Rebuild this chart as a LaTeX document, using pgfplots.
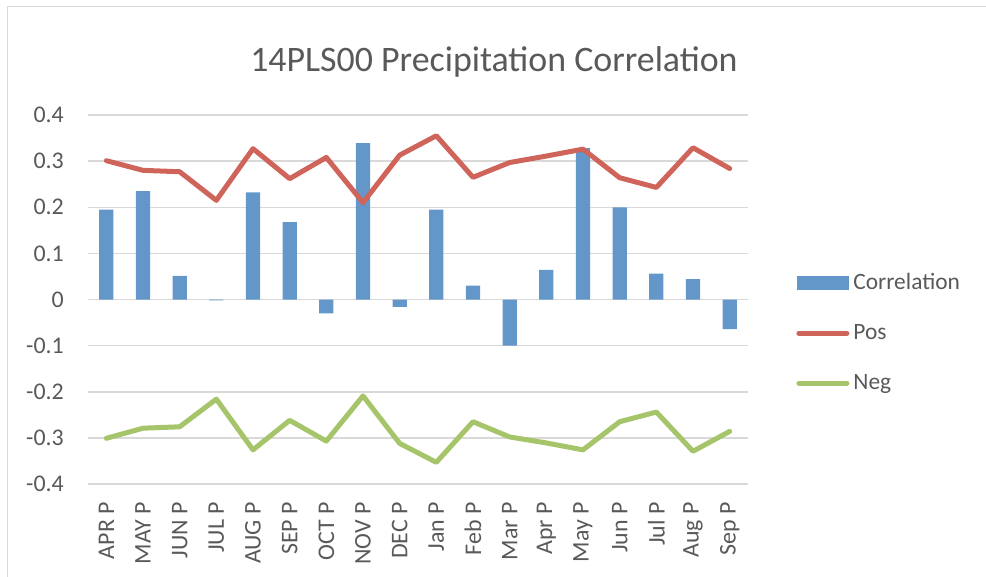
\documentclass[border=0pt]{standalone}
\usepackage{pgfplots}
\pgfplotsset{compat=1.18}
\usepackage{pgfplotstable}
\usepackage{fontspec}
\setmainfont{Carlito}
\definecolor{barblue}{HTML}{6396C9}
\definecolor{posred}{HTML}{CF655A}
\definecolor{neggreen}{HTML}{A6C56A}
\definecolor{txt}{HTML}{595959}
\definecolor{gridc}{HTML}{D9D9D9}
\pgfplotstableread{
x corr pos neg
0 0.195 0.301 -0.301
1 0.235 0.280 -0.279
2 0.051 0.277 -0.276
3 -0.002 0.215 -0.216
4 0.232 0.327 -0.326
5 0.168 0.262 -0.262
6 -0.030 0.308 -0.307
7 0.339 0.210 -0.209
8 -0.016 0.313 -0.312
9 0.195 0.355 -0.353
10 0.030 0.265 -0.265
11 -0.100 0.297 -0.298
12 0.064 0.311 -0.311
13 0.328 0.326 -0.326
14 0.200 0.264 -0.265
15 0.056 0.243 -0.244
16 0.044 0.329 -0.329
17 -0.064 0.284 -0.286
}\datatable
\begin{document}
\begin{tikzpicture}
\useasboundingbox (0,0) rectangle (986bp,577bp);
\draw[gridc, line width=1bp] (7.5bp,0) -- (7.5bp,570bp) -- (986bp,570bp);
\begin{axis}[
  at={(88bp,93bp)}, anchor=south west,
  scale only axis, width=660bp, height=369bp,
  xmin=-0.5, xmax=17.5, ymin=-0.4, ymax=0.4,
  xtick={0,...,17},
  xticklabels={APR P,MAY P,JUN P,JUL P,AUG P,SEP P,OCT P,NOV P,DEC P,Jan P,Feb P,Mar P,Apr P,May P,Jun P,Jul P,Aug P,Sep P},
  ytick={-0.4,-0.3,-0.2,-0.1,0,0.1,0.2,0.3,0.4},
  yticklabels={-0.4,-0.3,-0.2,-0.1,0,0.1,0.2,0.3,0.4},
  ymajorgrids, grid style={gridc, line width=1.5bp},
  axis line style={draw=none}, major tick style={draw=none},
  tick label style={font=\fontsize{24}{29}\selectfont, text=txt},
  xticklabel style={rotate=90, anchor=east, inner sep=0pt},
  yticklabel style={inner sep=0pt, anchor=east},
  xticklabel shift=18bp, yticklabel shift=24bp,
  title={14PLS00 Precipitation Correlation},
  title style={at={(axis description cs:0.615,1.103)}, anchor=base, font=\fontsize{36}{43}\selectfont, text=txt, inner sep=0pt},
  legend style={at={(axis description cs:1.073,0.409)}, anchor=west, draw=none, fill=none,
    font=\fontsize{23.5}{28}\selectfont, text=txt, row sep=28bp, column sep=4bp, inner sep=0pt,
    nodes={inner sep=0pt, text height=17bp, text depth=5bp}},
  legend cell align=left,
]
\addplot[ybar, bar width=14.3bp, fill=barblue, draw=none,
  legend image code/.code={\fill[barblue] (0bp,-7bp) rectangle (52bp,7bp);}]
  table[x=x, y=corr] {\datatable};
\addlegendentry{Correlation}
\addplot[posred, line width=5bp, line join=round, line cap=round, mark=none,
  legend image code/.code={\draw[posred, line width=5bp, line cap=round] (2bp,0) -- (50bp,0);}]
  table[x=x, y=pos] {\datatable};
\addlegendentry{Pos}
\addplot[neggreen, line width=5bp, line join=round, line cap=round, mark=none,
  legend image code/.code={\draw[neggreen, line width=5bp, line cap=round] (2bp,0) -- (50bp,0);}]
  table[x=x, y=neg] {\datatable};
\addlegendentry{Neg}
\end{axis}
\end{tikzpicture}
\end{document}
